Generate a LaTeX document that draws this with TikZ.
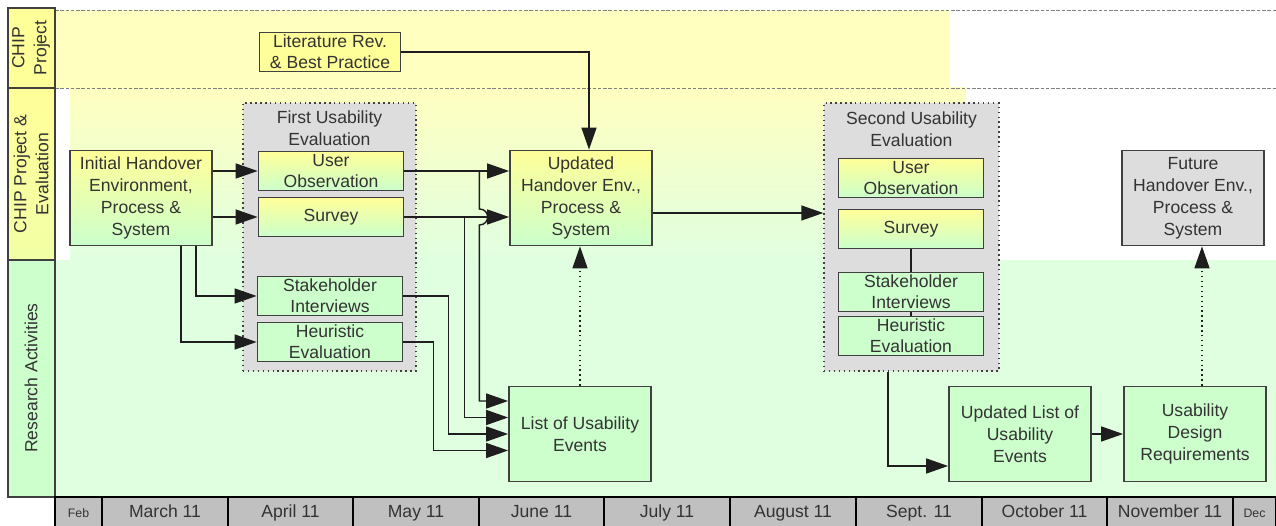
\documentclass[tikz,border=0pt]{standalone}
\usepackage{fontspec}
\setmainfont{Liberation Sans}
\usetikzlibrary{arrows.meta,calc,positioning}
\definecolor{BorderClr}{RGB}{64,64,64}
\definecolor{TextClr}{RGB}{51,51,51}
\definecolor{LineClr}{RGB}{30,30,30}
\definecolor{YellowClr}{RGB}{255,255,153}
\definecolor{GreenClr}{RGB}{204,255,204}
\definecolor{GreyClr}{RGB}{221,221,221}
\definecolor{MonthClr}{RGB}{192,192,192}
\definecolor{LaneYellowClr}{RGB}{255,255,192}
\definecolor{LaneGreenClr}{RGB}{224,255,224}

\begin{document}
\begin{tikzpicture}[x=0.02cm,y=-0.02cm,
  font=\fontsize{10}{12.5}\selectfont,text=TextClr,
  box/.style={draw=BorderClr,line width=1pt,align=center,minimum width=2.84cm,minimum height=1.9cm,inner sep=0pt},
  grad/.style={top color=YellowClr,bottom color=GreenClr},
  subbox/.style={draw=BorderClr,line width=1pt,align=center,minimum width=2.9cm,minimum height=0.78cm,inner sep=0pt,font=\fontsize{10}{12}\selectfont},
  group/.style={draw=BorderClr,fill=GreyClr,dotted,line width=0.8pt,inner sep=0pt},
  conn/.style={draw=LineClr,line width=0.8pt,-{Triangle[length=0.44cm,width=0.3cm]}},
  lane/.style={draw=BorderClr,line width=1pt},
  month/.style={draw=black,line width=0.8pt,fill=MonthClr}]

\useasboundingbox (0,0) rectangle (1276,526);

\fill[LaneYellowClr] (55,10) rectangle (950,88);
\shade[top color=LaneYellowClr,bottom color=LaneGreenClr] (70,88) rectangle (966,260);
\fill[LaneGreenClr] (55,260) rectangle (1276,497);
\draw[gray,dash pattern=on 2pt off 1pt] (55,10) -- (1276,10) (55,88) -- (1276,88);

\draw[lane,fill=YellowClr] (8,8) rectangle (55,88);
\draw[lane,top color=YellowClr,bottom color=YellowClr!75!GreenClr] (8,88) rectangle (55,260);
\draw[lane,fill=GreenClr] (8,260) rectangle (55,497);
\node[rotate=90,align=center] (lblproj) at (31,48) {CHIP\\Project};
\node[rotate=90,align=center] (lbleval) at (31,174) {CHIP Project \&\\Evaluation};
\node[rotate=90] (lblres) at (31,378) {Research Activities};

\foreach \a/\b/\m in {55/102/\scriptsize Feb,102/228/March 11,228/353/April 11,353/479/May 11,
  479/604/June 11,604/730/July 11,730/856/August 11,856/982/Sept. 11,982/1107/October 11,
  1107/1233/November 11,1233/1276/\scriptsize Dec}{
  \draw[month] (\a,497) rectangle (\b,530);
  \node[anchor=base] (month\a) at ({(\a+\b)/2},518) {\m};
}

\node[group,minimum width=3.46cm,minimum height=5.36cm] (grp1) at (329.5,237) {};
\node[align=center] (grp1t) at (329.5,128) {First Usability\\Evaluation};
\node[group,minimum width=3.5cm,minimum height=5.36cm] (grp2) at (911.5,237) {};
\node[align=center] (grp2t) at (911.5,129) {Second Usability\\Evaluation};

\node[box,fill=YellowClr,minimum width=2.82cm,minimum height=0.78cm,font=\fontsize{10}{12}\selectfont] (lit) at (330,52) {Literature Rev.\\\& Best Practice};
\node[box,grad] (init) at (141,198) {Initial Handover\\Environment,\\Process \&\\System};
\node[subbox,grad] (uo1) at (331,171) {User\\Observation};
\node[subbox,grad] (sv1) at (331,217) {Survey};
\node[subbox,fill=GreenClr] (si1) at (330,296) {Stakeholder\\Interviews};
\node[subbox,fill=GreenClr] (he1) at (330,342) {Heuristic\\Evaluation};
\node[box,grad] (upd) at (581,198) {Updated\\Handover Env.,\\Process \&\\System};
\node[box,fill=GreenClr] (list) at (580,434) {List of Usability\\Events};

\node[subbox,grad] (uo2) at (911,178) {User\\Observation};
\node[subbox,grad] (sv2) at (911,229) {Survey};
\node[subbox,fill=GreenClr] (si2) at (911,292) {Stakeholder\\Interviews};
\node[subbox,fill=GreenClr] (he2) at (911,336) {Heuristic\\Evaluation};
\node[box,fill=GreyClr] (fut) at (1193,198) {Future\\Handover Env.,\\Process \&\\System};
\node[box,fill=GreenClr] (ulist) at (1020,434) {Updated List of\\Usability\\Events};
\node[box,fill=GreenClr] (udr) at (1195,434) {Usability\\Design\\Requirements};

\draw[conn] (init.east |- uo1) -- (uo1.west);
\draw[conn] (init.east |- sv1) -- (sv1.west);
\draw[conn] ([xshift=1.1cm]init.south) |- (si1.west);
\draw[conn] ([xshift=0.8cm]init.south) |- (he1.west);

\draw[conn] (uo1.east) -- (uo1.east -| upd.west);
\draw[conn] (sv1.east) -- (sv1.east -| upd.west);
\draw[conn] (lit.east) -| ([xshift=0.16cm]upd.north);
\draw[conn,dotted] (list.north) -- (list.north |- upd.south);

\coordinate (j1) at ($(uo1.east)+(75,0)$);
\coordinate (j2) at ($(sv1.east)+(60,0)$);
\coordinate (hop) at (j1 |- sv1.east);
\draw[conn] (j1) -- ($(hop)+(0,-8)$) .. controls ($(hop)+(11,-8)$) and ($(hop)+(11,8)$) .. ($(hop)+(0,8)$)
  |- ([yshift=0.66cm]list.west);
\draw[conn] (j2) |- ([yshift=0.33cm]list.west);
\draw[conn] (si1.east) -- ++(45,0) |- (list.west);
\draw[conn] (he1.east) -- ++(30,0) |- ([yshift=-0.33cm]list.west);

\draw[conn] ([yshift=-0.3cm]upd.east) -- ([yshift=-0.3cm]upd.east -| grp2.west);
\draw[draw=LineClr,line width=0.8pt] (sv2) -- (si2);
\draw[draw=LineClr,line width=0.8pt] (si2) -- (he2);
\draw[conn] ([xshift=-0.47cm]grp2.south) |- ([yshift=-0.64cm]ulist.west);
\draw[conn] (ulist.east) -- (udr.west);
\coordinate (q) at ([xshift=0.14cm]udr.north);
\draw[conn,dotted] (q) -- (q |- fut.south);

\end{tikzpicture}
\end{document}
